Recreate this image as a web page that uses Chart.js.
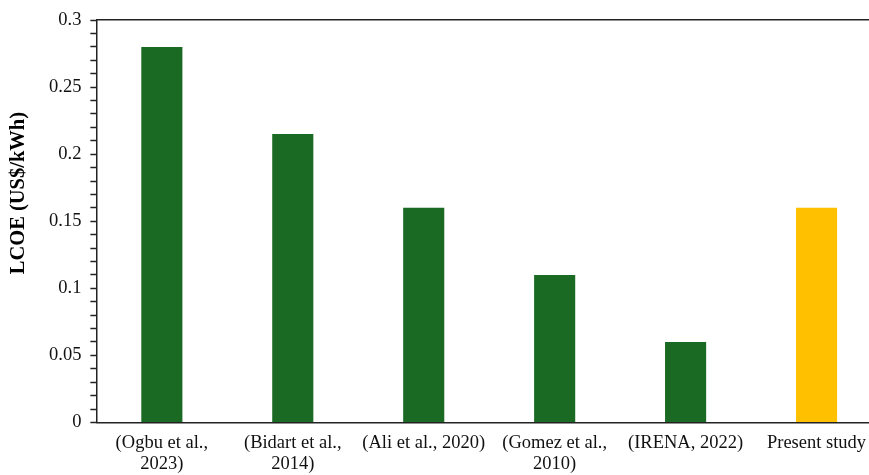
<!DOCTYPE html>
<html>
<head>
<meta charset="utf-8">
<script src="https://cdn.jsdelivr.net/npm/chart.js@4/dist/chart.umd.min.js"></script>
<style>
    body { margin: 0; overflow: hidden; background: #fff; }
    #wrap { width: 882px; height: 475px; position: relative; }
</style>
</head>
<body>
<div id="wrap"><canvas id="myChart"></canvas></div>
<script>
const studies = [
    ['(Ogbu et al.,', '2023)'],
    ['(Bidart et al.,', '2014)'],
    ['(Ali et al., 2020)'],
    ['(Gomez et al.,', '2010)'],
    ['(IRENA, 2022)'],
    ['Present study']
];
const lcoe = [0.28, 0.215, 0.16, 0.11, 0.06, 0.16];
const barColors = ['#1b6a24', '#1b6a24', '#1b6a24', '#1b6a24', '#1b6a24', '#ffc000'];
const yTicks = [0, 0.05, 0.1, 0.15, 0.2, 0.25, 0.3];
const yTitle = 'LCOE (US$/kWh)';

const ctx = document.getElementById('myChart');
const serif = "'Liberation Serif', 'Times New Roman', serif";

function isMajor(v) {
    return yTicks.some(t => Math.abs(t - v) < 1e-6);
}

// y title drawn by hand, it sits a bit above the middle of the axis in the original
const yTitlePlugin = {
    id: 'yTitle',
    afterDraw(chart) {
        const c = chart.ctx;
        const area = chart.chartArea;
        c.save();
        c.translate(19, area.top + (area.bottom - area.top) * 0.43);
        c.rotate(-Math.PI / 2);
        c.font = 'bold 20.5px ' + serif;
        c.fillStyle = '#000';
        c.textAlign = 'center';
        c.textBaseline = 'middle';
        c.fillText(yTitle, 0, 0);
        c.restore();
    }
};

let chart = new Chart(ctx, {
    type: 'bar',
    data: {
        labels: studies,
        datasets: [{
            data: lcoe,
            backgroundColor: barColors,
            barPercentage: 0.314,
            categoryPercentage: 1.0
        }]
    },
    options: {
        maintainAspectRatio: false,
        responsive: true,
        animation: false,
        layout: { padding: { top: 16, left: 40, right: 0, bottom: -10 } },
        plugins: {
            legend: { display: false },
            tooltip: { enabled: false }
        },
        scales: {
            x: {
                grid: { display: false, drawTicks: false },
                border: { display: true, color: '#222', width: 1.5 },
                ticks: {
                    color: '#111',
                    font: { family: serif, size: 18.5, lineHeight: 1.15 },
                    padding: 10,
                    maxRotation: 0,
                    autoSkip: false
                }
            },
            x2: {
                position: 'top',
                labels: studies,
                grid: { display: false, drawTicks: false },
                border: { display: true, color: '#222', width: 1.5 },
                ticks: { display: false }
            },
            y: {
                min: 0,
                max: 0.3,
                grid: {
                    drawOnChartArea: false,
                    drawTicks: true,
                    tickLength: 6,
                    tickColor: '#222',
                    tickWidth: 1.5
                },
                border: { display: true, color: '#222', width: 1.5 },
                ticks: {
                    stepSize: 0.01,
                    maxTicksLimit: 100,
                    autoSkip: false,
                    color: '#111',
                    padding: 9,
                    font: { family: serif, size: 18.5 },
                    callback: function (value) {
                        return isMajor(value) ? String(Number(value.toFixed(2))) : '';
                    }
                }
            }
        }
    },
    plugins: [yTitlePlugin]
});
</script>
</body>
</html>
